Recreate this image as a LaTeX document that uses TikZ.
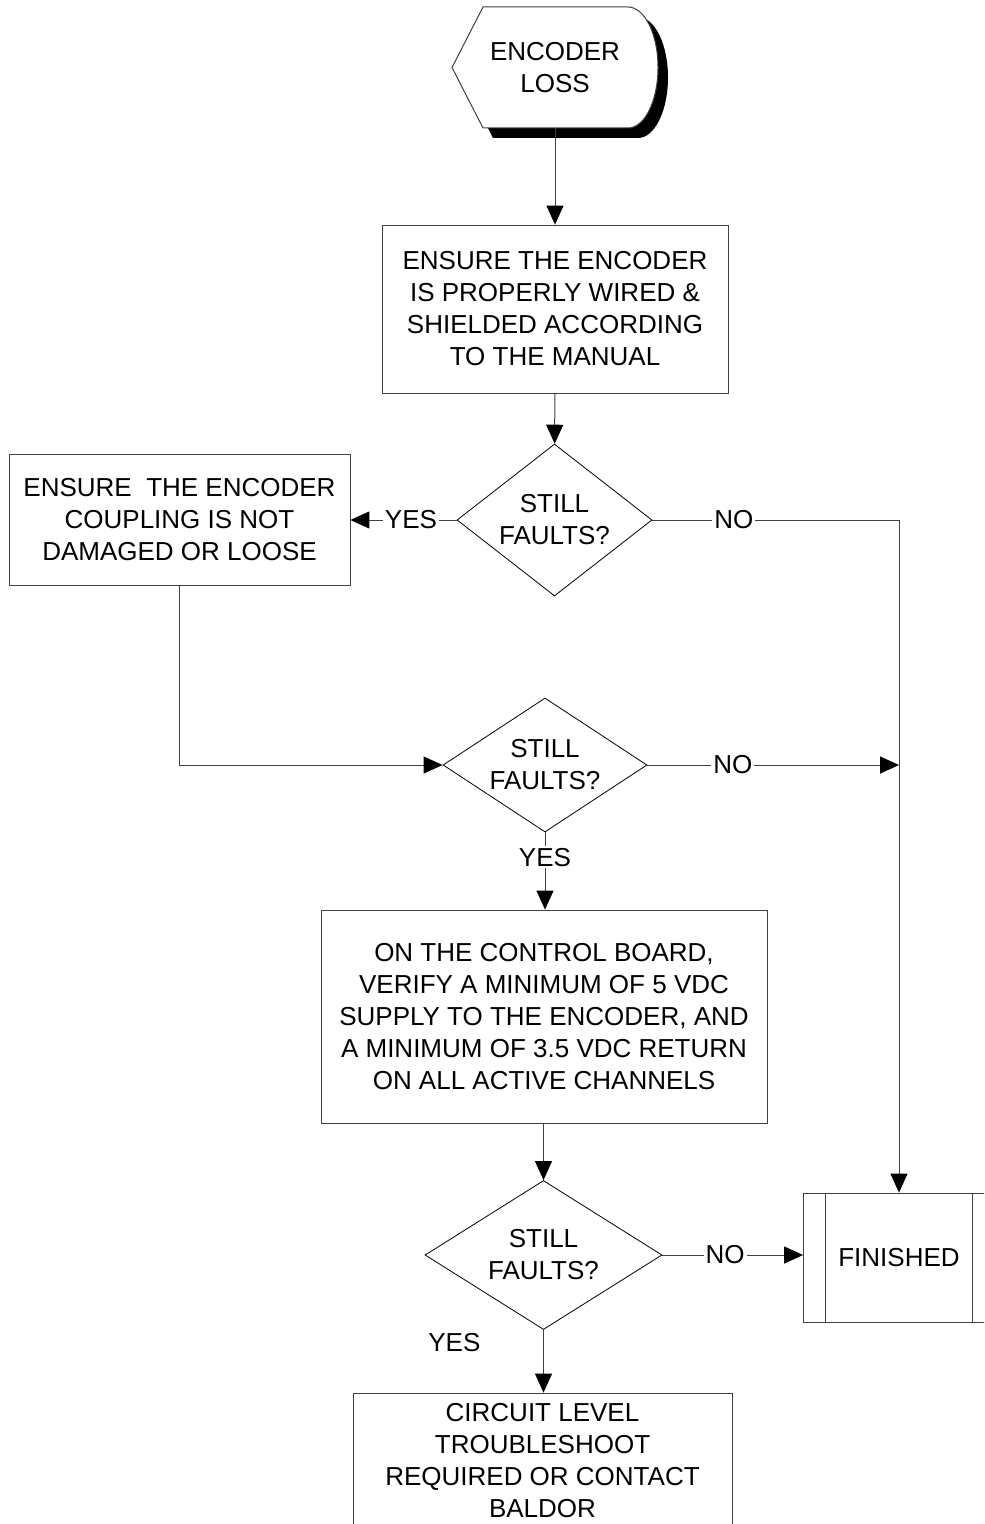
\documentclass[tikz,border=0pt]{standalone}
\usepackage{fontspec}
\setmainfont{Liberation Sans}
\usepackage{tikz}
\usetikzlibrary{positioning}
\usetikzlibrary{shapes.geometric, arrows.meta, shadows}
\tikzstyle{block}=[draw=black!75, rectangle, align=center, inner sep=0pt, font=\fontsize{13}{16}\selectfont]
\tikzstyle{decision}=[draw=black, diamond, align=center, inner sep=0pt, font=\fontsize{13}{16}\selectfont]
\tikzstyle{line}=[draw=black!75, line width=0.5pt]
\tikzstyle{arrow}=[line, -{Triangle[length=9.5pt, width=8.5pt, black]}]
\tikzstyle{answer}=[fill=white, inner sep=1pt, font=\fontsize{13}{16}\selectfont]

\begin{document}
\begin{tikzpicture}[x=0.5pt, y=-0.5pt]
            \useasboundingbox (0,0) rectangle (984,1524);
            \clip (0,0) rectangle (984,1524);

            % start symbol
            \path[line, fill=white, drop shadow={shadow xshift=5pt, shadow yshift=-5pt, fill=black, opacity=1}]
                (452,67.5) -- (483,7) -- (628,7)
                arc[start angle=90, end angle=-90, x radius=15pt, y radius=30.25pt]
                -- (483,128) -- cycle;
            \node[align=center, inner sep=0pt, minimum height=60.5pt, font=\fontsize{13}{16}\selectfont] (loss) at (555,67.5) {ENCODER\\LOSS};

            \node[block, minimum width=173pt, minimum height=84pt] (wiring) at (555,309) {ENSURE THE ENCODER\\IS PROPERLY WIRED \&\\SHIELDED ACCORDING\\ TO THE MANUAL};
            \node[decision, aspect=1.3, minimum width=97.5pt, minimum height=76pt] (d1) at (554.5,520) {STILL\\FAULTS?};
            \node[block, minimum width=170.5pt, minimum height=65.5pt] (coupling) at (179.5,519.5) {ENSURE\ \ THE ENCODER\\COUPLING IS NOT\\DAMAGED OR LOOSE};
            \node[decision, aspect=1.5, minimum width=102pt, minimum height=67pt] (d2) at (545,765) {STILL\\FAULTS?};
            \node[block, minimum width=223pt, minimum height=106.5pt] (supply) at (544,1016.5) {ON THE CONTROL BOARD,\\VERIFY A MINIMUM OF 5 VDC\\SUPPLY TO THE ENCODER, AND\\A MINIMUM OF 3.5 VDC RETURN\\ ON ALL ACTIVE CHANNELS};
            \node[decision, aspect=1.6, minimum width=118.5pt, minimum height=74.5pt] (d3) at (543.5,1255) {STILL\\FAULTS?};
            \node[block, minimum width=95.5pt, minimum height=64.5pt] (fin) at (899,1257.5) {FINISHED};
            \node[block, minimum width=189.5pt, minimum height=68pt] (contact) at (542.5,1461) {CIRCUIT LEVEL\\TROUBLESHOOT\\REQUIRED OR CONTACT\\BALDOR};

            \draw[line] ([xshift=11pt]fin.north west) -- ([xshift=11pt]fin.south west);
            \draw[line] ([xshift=-11pt]fin.north east) -- ([xshift=-11pt]fin.south east);

            \coordinate (c1) at (fin.north |- d1.east);
            \coordinate (c2) at (fin.north |- d2.east);

            \draw[arrow] (loss) -- (wiring);
            \draw[arrow] (wiring) -- (d1);
            \draw[arrow] (d1.west) -- node[answer, pos=0.43] {YES} (coupling.east |- d1.west);
            \draw[line] (d1.east) -- node[answer, pos=0.33] {NO} (c1);
            \draw[arrow] (c1) -- (fin);
            \draw[arrow] (coupling.south) |- (d2.west);
            \draw[arrow] (d2.east) -- node[answer, pos=0.34] {NO} (c2);
            \draw[arrow] (d2.south) -- node[answer, pos=0.32] {YES} (supply.north -| d2.south);
            \draw[arrow] (supply.south -| d3.north) -- (d3.north);
            \draw[arrow] (d3.east) -- node[answer, pos=0.445] {NO} (d3.east -| fin.west);
            \draw[arrow] (d3.south) -- node[pos=0.2, left=28pt, font=\fontsize{13}{16}\selectfont] {YES} (contact.north -| d3.south);
        \end{tikzpicture}
\end{document}
